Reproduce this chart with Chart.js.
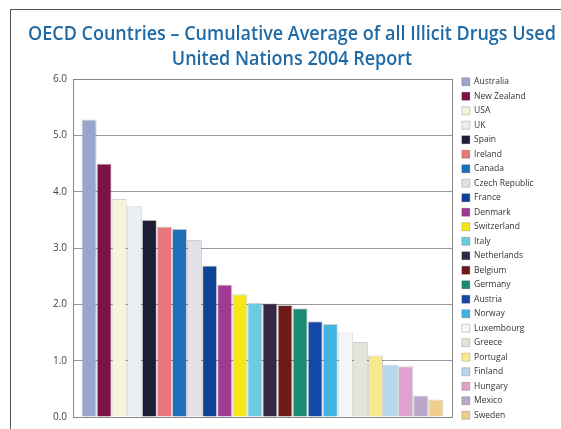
<!DOCTYPE html>
<html>
<head>
<meta charset="utf-8">
<script src="https://cdn.jsdelivr.net/npm/chart.js@4"></script>
<style>
  html, body { margin: 0; padding: 0; background: #fff; overflow: hidden; }
  #wrap { position: relative; width: 561px; height: 429px; }
  #frame { position: absolute; left: 10px; top: 9px; width: 600px; height: 500px; border: 1px solid #555; box-sizing: border-box; pointer-events: none; }
  #title { position: absolute; left: 0; top: 20px; width: 584px; text-align: center;
    font-family: 'Open Sans', sans-serif; font-weight: 600; font-size: 19.3px; line-height: 25px;
    color: #1f6aa5; white-space: nowrap; transform: scaleX(0.933); transform-origin: 292px 0; }
  canvas { position: absolute; left: 0; top: 0; }
</style>
</head>
<body>
<div id="wrap">
  <canvas id="myChart" width="561" height="429"></canvas>
  <div id="title">OECD Countries &ndash; Cumulative Average of all Illicit Drugs Used<br>United Nations 2004 Report</div>
  <div id="frame"></div>
</div>
<script>
// Values
const countries = ['Australia', 'New Zealand', 'USA', 'UK', 'Spain', 'Ireland', 'Canada',
    'Czech Republic', 'France', 'Denmark', 'Switzerland', 'Italy', 'Netherlands', 'Belgium',
    'Germany', 'Austria', 'Norway', 'Luxembourg', 'Greece', 'Portugal', 'Finland', 'Hungary',
    'Mexico', 'Sweden'];
const drugUse = [5.28, 4.50, 3.87, 3.74, 3.50, 3.38, 3.34, 3.14, 2.69, 2.35, 2.18, 2.03,
    2.02, 1.99, 1.93, 1.70, 1.65, 1.50, 1.33, 1.09, 0.93, 0.90, 0.38, 0.31];
const barColors = ['#9aa5cc', '#7a1446', '#f7f4dc', '#e8f0f2', '#1e1d35', '#e8767a', '#1f6fba',
    '#e0e2e8', '#0d4394', '#a03a93', '#f5e51a', '#6ccbe0', '#352845', '#6e1a1a', '#1a8a72',
    '#1448a8', '#3fb4e0', '#f4f6f7', '#e2e5d8', '#f7ea8a', '#b6d8ea', '#e0a0d0', '#b9a6c9',
    '#f0cf8c'];
const yTicks = [0, 1, 2, 3, 4, 5, 6];

// Draw the box around the plot area
const plotFrame = {
    id: 'plotFrame',
    afterDraw(chart) {
        const a = chart.chartArea;
        const ctx = chart.ctx;
        ctx.save();
        ctx.strokeStyle = '#888';
        ctx.lineWidth = 1;
        ctx.strokeRect(Math.round(a.left) + 0.5, Math.round(a.top) + 0.5,
            Math.round(a.right - a.left), Math.round(a.bottom - a.top));
        ctx.restore();
    }
};

// empty axes, only used to leave room above and right of the plot
const spacer = (pos, size) => ({
    position: pos,
    display: true,
    grid: { display: false },
    border: { display: false },
    ticks: { display: false },
    afterFit(scale) {
        if (pos === 'top') scale.height = size; else scale.width = size;
    }
});

const ctx = document.getElementById('myChart').getContext('2d');
const chart = new Chart(ctx, {
    type: 'bar',
    data: {
        labels: [''],
        datasets: countries.map((name, i) => ({
            label: name,
            data: [drugUse[i]],
            backgroundColor: barColors[i],
            borderColor: 'rgba(0,0,0,0.18)',
            borderWidth: 1
        }))
    },
    options: {
        responsive: false,
        animation: false,
        layout: { padding: { left: 20, right: 18, top: 0, bottom: 0 } },
        datasets: { bar: { categoryPercentage: 0.955, barPercentage: 1 } },
        scales: {
            x: {
                grid: { display: false, drawTicks: false },
                border: { display: true, color: '#888' },
                ticks: { display: false },
                afterFit(scale) { scale.height = 10; }
            },
            y: {
                min: 0,
                max: 6,
                afterBuildTicks(scale) {
                    scale.ticks = yTicks.map(v => ({ value: v }));
                },
                afterFit(scale) { scale.width = 53; },
                grid: { color: '#999', drawTicks: false },
                border: { display: true, color: '#888' },
                ticks: {
                    padding: 6,
                    color: '#444',
                    font: { family: 'Open Sans', size: 10 },
                    callback: v => v.toFixed(1)
                }
            },
            gapTop: spacer('top', 79),
            gapRight: spacer('right', 4)
        },
        plugins: {
            title: { display: false },
            legend: {
                position: 'right',
                align: 'start',
                title: {
                    display: true,
                    text: ' ',
                    font: { size: 10, lineHeight: 1.2 },
                    padding: { top: 59.5, bottom: 0 }
                },
                labels: {
                    boxWidth: 8,
                    boxHeight: 8,
                    padding: 6,
                    color: '#333',
                    font: { family: 'Open Sans', size: 8.5 }
                }
            },
            tooltip: { enabled: false }
        }
    },
    plugins: [plotFrame]
});
</script>
</body>
</html>
